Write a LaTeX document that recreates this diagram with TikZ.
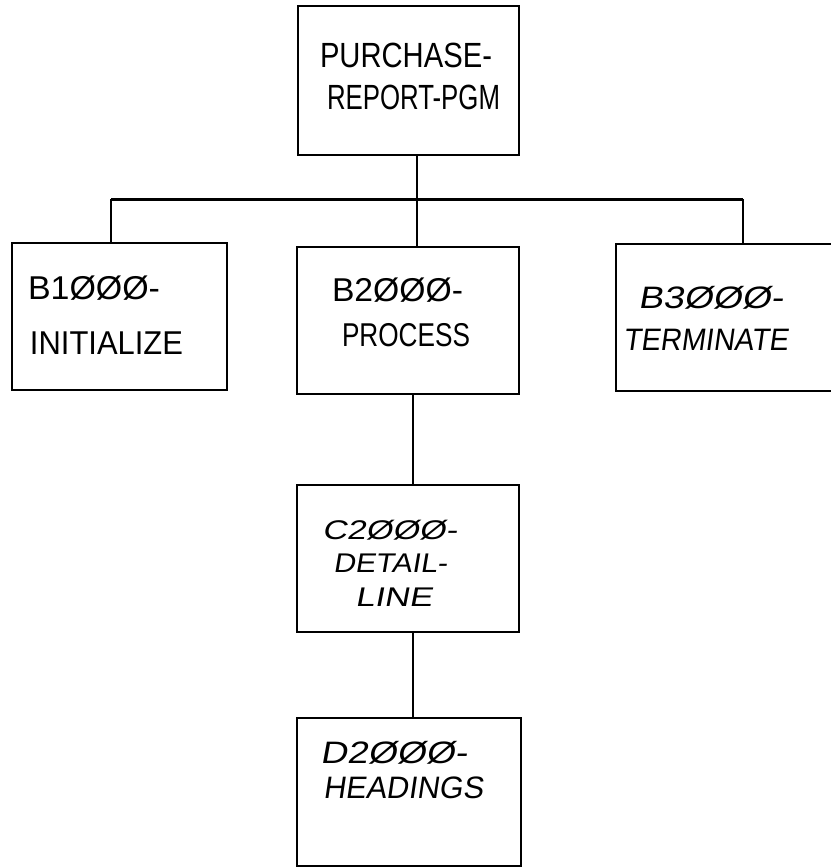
\documentclass[tikz,border=0pt]{standalone}
\usepackage{fontspec}
\setmainfont{Liberation Sans}
\newfontfamily\handslant[FakeSlant=0.15]{Liberation Sans}
\newcommand\fitline[2]{\setbox0=\hbox{#2}\pgfmathsetmacro\fitfs{#1/\the\wd0}\scalebox{\fitfs}[1]{\box0}}
\tikzset{
  box/.style={draw, line width=2.4pt, inner sep=0pt, outer sep=0pt},
  link/.style={line width=2.4pt},
  bus/.style={line width=3pt},
  txt/.style={anchor=west, inner sep=0pt, outer sep=0pt, font=\fontsize{33}{33}\selectfont},
  txtbig/.style={txt, font=\fontsize{35}{35}\selectfont},
  txts/.style={txt, font=\fontsize{31}{31}\selectfont\handslant},
  txtc/.style={txt, font=\fontsize{27}{27}\selectfont\handslant},
}
\begin{document}
\begin{tikzpicture}[x=1pt,y=-1pt]
\useasboundingbox (0,0) rectangle (830,867);
% boxes
\node[box, minimum width=221pt, minimum height=149pt] (top) at (408.5,80.5) {};
\node[box, minimum width=215pt, minimum height=147pt] (b1) at (119.5,316.5) {};
\node[box, minimum width=222pt, minimum height=147pt] (b2) at (408,320.5) {};
\node[box, minimum width=218pt, minimum height=147pt] (b3) at (725,317.5) {};
\node[box, minimum width=222pt, minimum height=147pt] (c) at (408,558.5) {};
\node[box, minimum width=224pt, minimum height=148pt] (d) at (409,792) {};
% connectors
\coordinate (busL) at (111,199);
\coordinate (busR) at (743,199);
\coordinate (stem) at (417,199);
\coordinate (cstem) at (413,0);
\draw[link] (stem |- top.south) -- (stem);
\draw[bus] (busL) -- (busR);
\draw[link] (busL) -- (busL |- b1.north);
\draw[link] (stem) -- (stem |- b2.north);
\draw[link] (busR) -- (busR |- b3.north);
\draw[link] (cstem |- b2.south) -- (cstem |- c.north);
\draw[link] (cstem |- c.south) -- (cstem |- d.north);
% texts
\node[txtbig] (t1) at (320,55) {\fitline{172}{PURCHASE-}};
\node[txtbig] (t2) at (327,97) {\fitline{173}{REPORT-PGM}};
\node[txt] (b1a) at (28,288) {\fitline{132}{B1ØØØ-}};
\node[txt] (b1b) at (30,343) {\fitline{153}{INITIALIZE}};
\node[txt] (b2a) at (332,290) {\fitline{131}{B2ØØØ-}};
\node[txt] (b2b) at (342,335) {\fitline{128}{PROCESS}};
\node[txts] (b3a) at (638,298) {\fitline{145}{B3ØØØ-}};
\node[txts] (b3b) at (623,340) {\fitline{165}{TERMINATE}};
\node[txtc] (ca) at (322,530) {\fitline{135}{C2ØØØ-}};
\node[txtc] (cb) at (333,563) {\fitline{114}{DETAIL-}};
\node[txtc] (cc) at (355,597) {\fitline{77}{LINE}};
\node[txts] (da) at (320,753) {\fitline{147}{D2ØØØ-}};
\node[txts] (db) at (323,788) {\fitline{160}{HEADINGS}};
\end{tikzpicture}
\end{document}
